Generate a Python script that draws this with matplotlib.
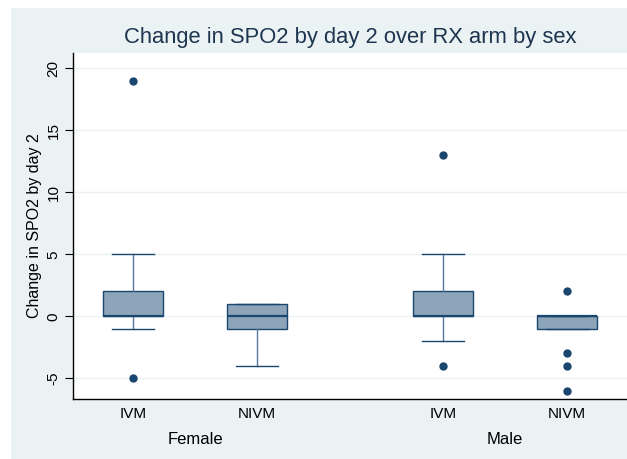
import matplotlib
matplotlib.use("Agg")
import matplotlib.pyplot as plt
from matplotlib.patches import Rectangle

plt.rcParams['font.family'] = ['Liberation Sans', 'DejaVu Sans']

# ---- data ----
sexes = ["Female", "Male"]
arms = ["IVM", "NIVM", "IVM", "NIVM"]
q1 = [0, -1, 0, -1]
median = [0, 0, 0, 0]
q3 = [2, 1, 2, 0]
whisker_low = [-1, -4, -2, -1]
whisker_high = [5, 1, 5, 0]
outliers = [[19, -5], [], [13, -4], [2, -3, -4, -6]]
yticks = [-5, 0, 5, 10, 15, 20]

# ---- layout ----
positions = [1, 2, 3.5, 4.5]
group_centers = [1.5, 4.0]

BG = '#EAF2F3'
NAVY = '#1A476F'
FILL = '#8EA4B8'
WHISK = '#57789A'

fig = plt.figure(figsize=(6.27, 4.59), dpi=100)
fig.patch.set_facecolor('white')
fig.patches.append(Rectangle((11 / 627, 0), 1 - 11 / 627, 1 - 8 / 459,
                             transform=fig.transFigure, facecolor=BG,
                             edgecolor='none', zorder=-10))

ax = fig.add_axes([73 / 627, 60 / 459, 1 - 73 / 627, (399 - 53) / 459])
ax.set_facecolor('white')

stats = []
for i in range(len(arms)):
    stats.append(dict(q1=q1[i], med=median[i], q3=q3[i],
                      whislo=whisker_low[i], whishi=whisker_high[i],
                      fliers=outliers[i], label=arms[i]))

ax.bxp(stats, positions=positions, widths=0.484, capwidths=0.34,
       patch_artist=True, showfliers=True,
       boxprops=dict(facecolor=FILL, edgecolor=NAVY, linewidth=1.0),
       medianprops=dict(color=NAVY, linewidth=1.6),
       whiskerprops=dict(color=WHISK, linewidth=1.0),
       capprops=dict(color=NAVY, linewidth=1.0),
       flierprops=dict(marker='o', markerfacecolor=NAVY, markeredgecolor=NAVY,
                       markersize=5, linestyle='none'))

ax.set_xlim(0.516, 4.984)
ax.set_ylim(-6.67, 21.23)

ax.set_yticks(yticks)
ax.set_yticklabels([str(t) for t in yticks], rotation=90, va='center',
                   fontsize=11)
ax.yaxis.grid(True, color=BG, linewidth=1.0)
ax.set_axisbelow(True)
ax.tick_params(axis='y', length=6, width=0.8, color='black', pad=3)
ax.set_xticks(positions)
ax.set_xticklabels(arms, fontsize=11)
ax.tick_params(axis='x', length=0, pad=6)

for s in ['top', 'right']:
    ax.spines[s].set_visible(False)
for s in ['left', 'bottom']:
    ax.spines[s].set_color('black')
    ax.spines[s].set_linewidth(1.0)

for c, name in zip(group_centers, sexes):
    ax.text(c, -0.118, name, transform=ax.get_xaxis_transform(),
            ha='center', va='center', fontsize=12)

ax.set_ylabel("Change in SPO2 by day 2", fontsize=11.5, labelpad=3)
ax.set_title("Change in SPO2 by day 2 over RX arm by sex", fontsize=15.8,
             color='#1E3550', pad=7)

fig.savefig("out.png", dpi=100, facecolor=fig.get_facecolor())
